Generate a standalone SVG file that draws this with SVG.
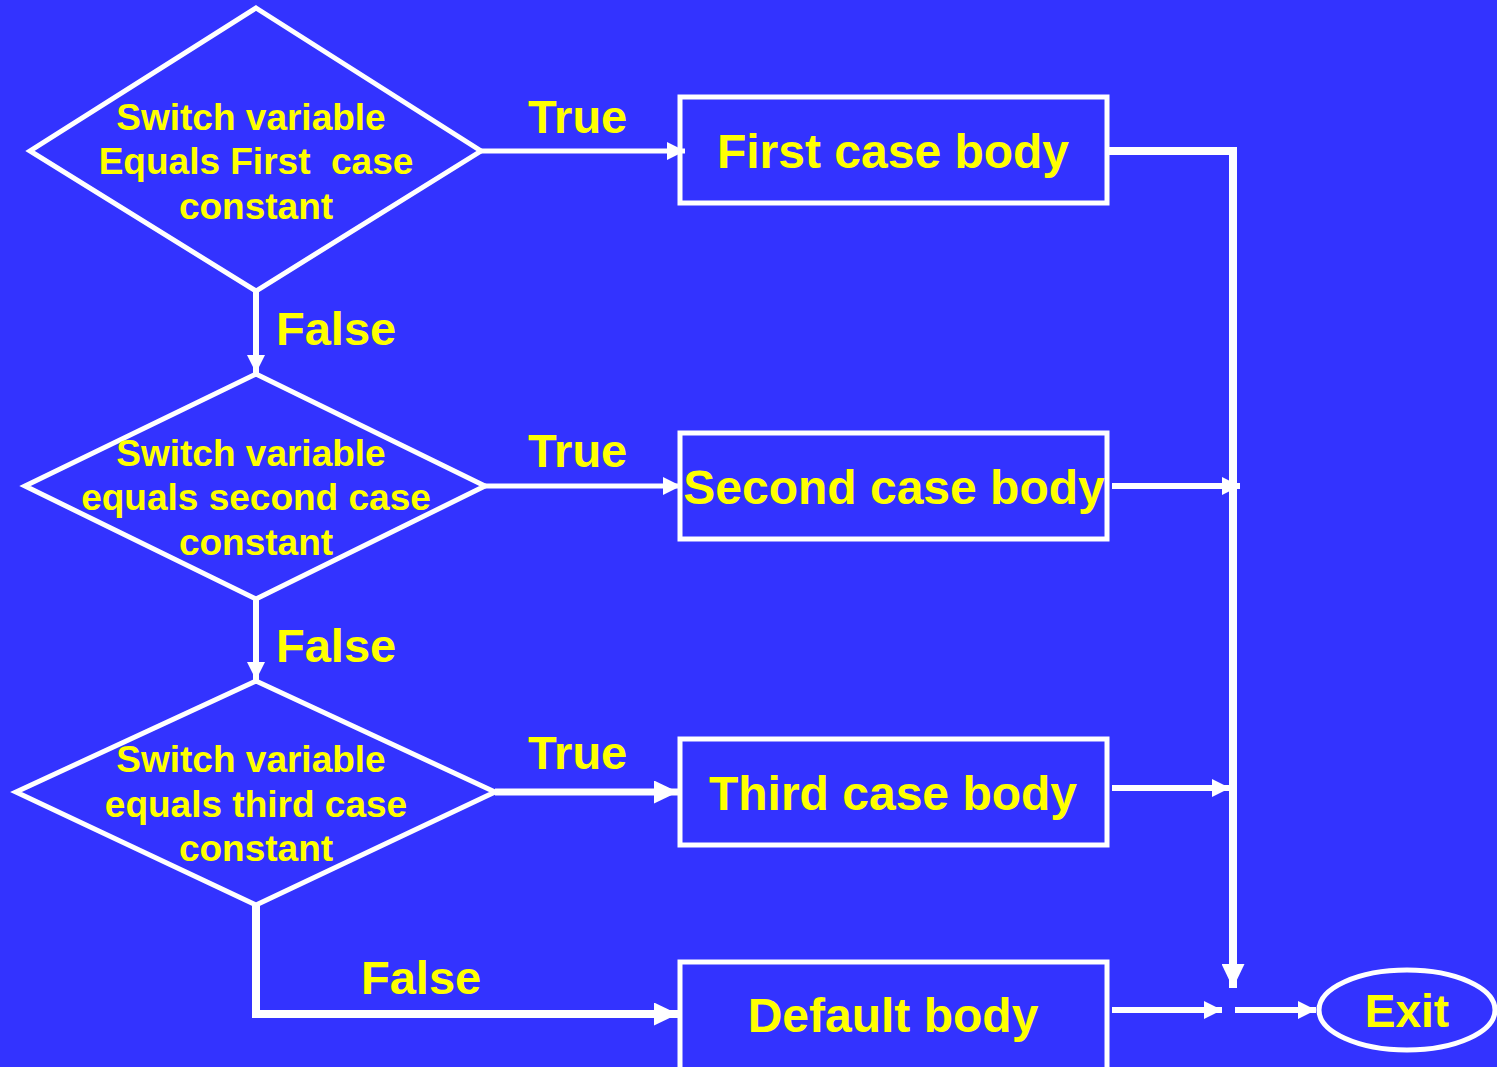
<svg xmlns="http://www.w3.org/2000/svg" width="1497" height="1067" viewBox="0 0 1497 1067">
  <defs>
    <style>
      .shape { fill: none; stroke: #FFFFFF; stroke-width: 5; }
      .wire { fill: none; stroke: #FFFFFF; }
      .t { font-family: "Liberation Sans", Arial, sans-serif; font-weight: bold; fill: #FFFF00; text-anchor: middle; white-space: pre; }
      .cond { font-size: 37px; }
      .body { font-size: 48px; }
      .edge { font-size: 47px; text-anchor: start; }
    </style>
    <marker id="arrow" viewBox="0 0 18 18" refX="18" refY="9" markerWidth="18" markerHeight="18" markerUnits="userSpaceOnUse" orient="auto">
      <path d="M0,0 L18,9 L0,18 z" fill="#FFFFFF"/>
    </marker>
    <marker id="arrow-lg" viewBox="0 0 24 23" refX="24" refY="11.5" markerWidth="24" markerHeight="23" markerUnits="userSpaceOnUse" orient="auto">
      <path d="M0,0 L24,11.5 L0,23 z" fill="#FFFFFF"/>
    </marker>
  </defs>

  <rect x="0" y="0" width="1497" height="1067" fill="#3333FF"/>

  <!-- connectors -->
  <g id="connectors">
    <line class="wire" x1="481" y1="151" x2="685" y2="151" stroke-width="5" marker-end="url(#arrow)"/>
    <line class="wire" x1="485" y1="486" x2="681" y2="486" stroke-width="5" marker-end="url(#arrow)"/>
    <line class="wire" x1="495" y1="792" x2="678" y2="792" stroke-width="7" marker-end="url(#arrow-lg)"/>
    <line class="wire" x1="256" y1="291" x2="256" y2="373" stroke-width="6" marker-end="url(#arrow)"/>
    <line class="wire" x1="256" y1="599" x2="256" y2="680" stroke-width="6" marker-end="url(#arrow)"/>
    <path class="wire" d="M256,905 V1014 H678" stroke-width="8" marker-end="url(#arrow-lg)"/>
    <path class="wire" d="M1109,151 H1233 V988" stroke-width="8" marker-end="url(#arrow-lg)"/>
    <line class="wire" x1="1112" y1="486" x2="1240" y2="486" stroke-width="6" marker-end="url(#arrow)"/>
    <line class="wire" x1="1112" y1="788" x2="1230" y2="788" stroke-width="6" marker-end="url(#arrow)"/>
    <line class="wire" x1="1112" y1="1010" x2="1222" y2="1010" stroke-width="6" marker-end="url(#arrow)"/>
    <line class="wire" x1="1235" y1="1010" x2="1316" y2="1010" stroke-width="6" marker-end="url(#arrow)"/>
  </g>

  <!-- edge labels -->
  <g id="labels">
    <text class="t edge" x="528" y="133">True</text>
    <text class="t edge" x="528" y="467">True</text>
    <text class="t edge" x="528" y="769">True</text>
    <text class="t edge" x="276" y="345">False</text>
    <text class="t edge" x="276" y="662">False</text>
    <text class="t edge" x="361" y="994">False</text>
  </g>

  <!-- decisions -->
  <g id="decision-first">
    <polygon class="shape" points="256,8 481,151 256,291 30,151"/>
    <text class="t cond" x="251" y="130">Switch variable</text>
    <text class="t cond" x="256" y="174">Equals First  case</text>
    <text class="t cond" x="256" y="219">constant</text>
  </g>
  <g id="decision-second">
    <polygon class="shape" points="256,374 485,486 256,599 25,486"/>
    <text class="t cond" x="251" y="466">Switch variable</text>
    <text class="t cond" x="256" y="510">equals second case</text>
    <text class="t cond" x="256" y="555">constant</text>
  </g>
  <g id="decision-third">
    <polygon class="shape" points="256,681 495,792 256,905 16,792"/>
    <text class="t cond" x="251" y="772">Switch variable</text>
    <text class="t cond" x="256" y="817">equals third case</text>
    <text class="t cond" x="256" y="861">constant</text>
  </g>

  <!-- case bodies -->
  <g id="body-first">
    <rect class="shape" x="680" y="97" width="427" height="106"/>
    <text class="t body" x="893" y="168">First case body</text>
  </g>
  <g id="body-second">
    <rect class="shape" x="680" y="433" width="427" height="106"/>
    <text class="t body" x="894" y="504">Second case body</text>
  </g>
  <g id="body-third">
    <rect class="shape" x="680" y="739" width="427" height="106"/>
    <text class="t body" x="893" y="810">Third case body</text>
  </g>
  <g id="body-default">
    <rect class="shape" x="680" y="962" width="427" height="120"/>
    <text class="t body" x="893" y="1032">Default body</text>
  </g>

  <!-- exit -->
  <g id="exit">
    <ellipse class="shape" cx="1407" cy="1010" rx="88" ry="40"/>
    <text class="t" x="1407" y="1027" font-size="46">Exit</text>
  </g>
</svg>
